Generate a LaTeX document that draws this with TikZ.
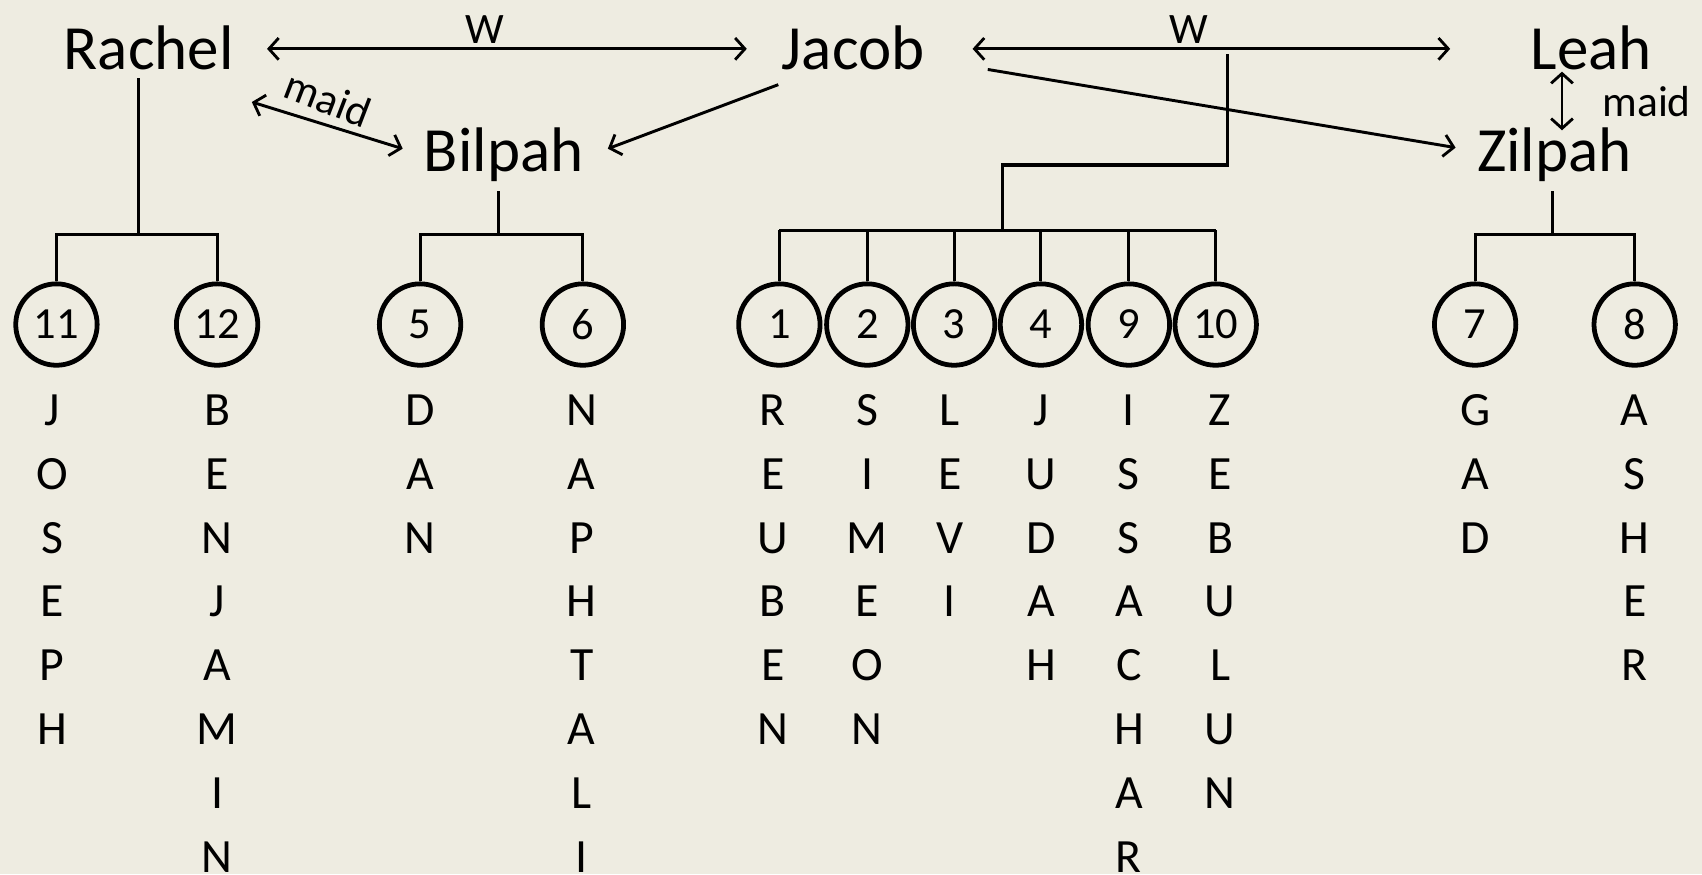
\documentclass[tikz,border=0pt]{standalone}
\usepackage{fontspec}
\setmainfont{Carlito}
\usetikzlibrary{arrows.meta}
\definecolor{bg}{HTML}{EEECE1}
\begin{document}
\begin{tikzpicture}[x=1pt,y=-1pt,
  person/.style={inner sep=0pt, anchor=base, font=\fontsize{58}{60}\selectfont},
  lab/.style={inner sep=0pt, font=\fontsize{40}{44}\selectfont},
  kid/.style={circle, draw, line width=4.4pt, minimum size=75pt, inner sep=0pt, font=\fontsize{41}{44}\selectfont},
  letter/.style={inner sep=0pt, anchor=base, font=\fontsize{44}{48}\selectfont},
  conn/.style={line width=2.8pt},
  tip/.tip={Straight Barb[length=9pt,width=20pt,line width=2.6pt]},
  arr/.style={line width=2.7pt, -tip},
  darr/.style={line width=2.7pt, tip-tip},
]
\fill[bg] (0,0) rectangle (1568,805.2);
\useasboundingbox (0,0) rectangle (1568,805.2);

% people
\node[person] (rachel) at (137,64) {Rachel};
\node[person] (jacob)  at (786,64) {Jacob};
\node[person] (leah)   at (1466,64) {Leah};
\node[person] (bilpah) at (464,158) {Bilpah};
\node[person] (zilpah) at (1432,158) {Zilpah};

% relation labels
\node[lab, anchor=base] (w1) at (447,40) {W};
\node[lab, anchor=base] (w2) at (1095,40) {W};
\node[lab, anchor=base] (maid2) at (1517,107) {maid};
\node[lab, rotate=-21] (maid1) at (302,91) {maid};

% connector end points
\coordinate (rj1) at (246,45);  \coordinate (rj2) at (688,45);
\coordinate (jl1) at (896,45);  \coordinate (jl2) at (1336,45);
\coordinate (jb1) at (717,78);  \coordinate (jb2) at (560,137);
\coordinate (rb1) at (232,94);  \coordinate (rb2) at (371,137);
\coordinate (jz1) at (910,64);  \coordinate (jz2) at (1341,136);
\coordinate (lz1) at (1439,66); \coordinate (lz2) at (1439,120);

\draw[darr] (rj1) -- (rj2);
\draw[darr] (jl1) -- (jl2);
\draw[arr]  (jb1) -- (jb2);
\draw[darr] (rb1) -- (rb2);
\draw[arr]  (jz1) -- (jz2);
\draw[darr] (lz1) -- (lz2);

% children
\foreach \n/\x in {11/52,12/200,5/387,6/537,1/718,2/799,3/879,4/959,9/1040,10/1120,7/1359,8/1506}
  \node[kid] (c\n) at (\x,299) {\n};

% Rachel's line
\coordinate (rtop) at (128,72);  \coordinate (rbar) at (128,216);
\draw[conn] (rtop) -- (rbar);
\draw[conn] (c11.north) |- (rbar) -| (c12.north);

% Bilpah's line
\coordinate (btop) at (459,176); \coordinate (bbar) at (459,216);
\draw[conn] (btop) -- (bbar);
\draw[conn] (c5.north) |- (bbar) -| (c6.north);

% Zilpah's line
\coordinate (ztop) at (1430,176); \coordinate (zbar) at (1430,216);
\draw[conn] (ztop) -- (zbar);
\draw[conn] (c7.north) |- (zbar) -| (c8.north);

% Leah's line
\coordinate (ltop) at (1131,50); \coordinate (lbend) at (924,152); \coordinate (lbar) at (924,212);
\draw[conn] (ltop) |- (lbend) -- (lbar);
\draw[conn] (c1.north |- lbar) -- (c10.north |- lbar);
\foreach \n in {1,2,3,4,9,10}
  \draw[conn] (c\n.north) -- (c\n.north |- lbar);

% names spelled downward
\foreach \x/\word in {48/{J,O,S,E,P,H}, 200/{B,E,N,J,A,M,I,N}, 387/{D,A,N},
    536/{N,A,P,H,T,A,L,I}, 712/{R,E,U,B,E,N}, 799/{S,I,M,E,O,N},
    875/{L,E,V,I}, 959/{J,U,D,A,H}, 1040/{I,S,S,A,C,H,A,R},
    1124/{Z,E,B,U,L,U,N}, 1359/{G,A,D}, 1506/{A,S,H,E,R}}
  \foreach \l [count=\i] in \word
    \node[letter] (t\x-\i) at (\x,{392+58.8*(\i-1)}) {\l};
\end{tikzpicture}
\end{document}
